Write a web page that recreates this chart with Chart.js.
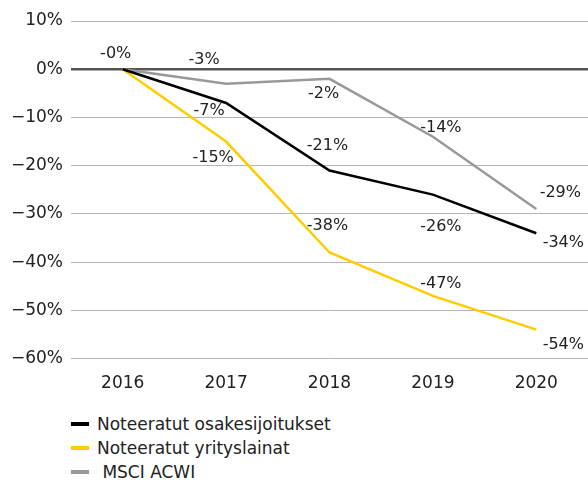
<!DOCTYPE html>
<html lang="fi">
<head>
<meta charset="utf-8">
<script src="https://cdn.jsdelivr.net/npm/chart.js@4"></script>
<style>
  body { margin: 0; background: #fff; font-family: "DejaVu Sans", sans-serif; }
  #wrap { position: relative; width: 588px; height: 401px; }
  #legend { margin: 11px 0 0 71px; }
  .item { display: flex; align-items: center; height: 24px; font-size: 17px; color: #222; }
  .item span.mark { display: inline-block; width: 18px; height: 4px; margin-right: 8px; }
</style>
</head>
<body>
<div id="wrap"><canvas id="grafico"></canvas></div>
<div id="legend"></div>
<script>
// Datos
const vuodet = ['2016', '2017', '2018', '2019', '2020'];
const osakkeet = [0, -7, -21, -26, -34];
const lainat = [0, -15, -38, -47, -54];
const msci = [0, -3, -2, -14, -29];

const nimet = ['Noteeratut osakesijoitukset', 'Noteeratut yrityslainat', ' MSCI ACWI'];
const varit = ['#000000', '#ffcc00', '#999999'];
const fontti = '"DejaVu Sans", sans-serif';

// Etiketit: siirtymä pisteestä (px), null = ei etikettiä
const siirrot = [
  [null, [-17, 8], [-2, -25], [8, 32], [27, 10]],
  [null, [-13, 16], [-2, -27], [8, -12], [27, 15]],
  [[-7, -15], [-22, -24], [-6, 15], [8, -9], [24, -16]]
];

const etiketit = {
  id: 'etiketit',
  afterDatasetsDraw(chart) {
    const c = chart.ctx;
    c.save();
    c.font = '16px ' + fontti;
    c.fillStyle = '#222';
    c.textAlign = 'center';
    c.textBaseline = 'middle';
    chart.data.datasets.forEach((ds, i) => {
      chart.getDatasetMeta(i).data.forEach((p, j) => {
        const s = siirrot[i][j];
        if (!s) return;
        c.fillText(Math.round(ds.data[j]) === 0 ? '-0%' : ds.data[j] + '%', p.x + s[0], p.y + s[1]);
      });
    });
    c.restore();
  }
};

const ctx = document.getElementById('grafico').getContext('2d');
const grafico = new Chart(ctx, {
  type: 'line',
  data: {
    labels: vuodet,
    datasets: [osakkeet, lainat, msci].map((d, i) => ({
      label: nimet[i],
      data: d,
      borderColor: varit[i],
      backgroundColor: varit[i],
      borderWidth: 2.5,
      pointRadius: 0,
      tension: 0,
      order: i
    }))
  },
  options: {
    responsive: true,
    maintainAspectRatio: false,
    animation: false,
    layout: { padding: { top: 21, right: 0, bottom: 0, left: 0 } },
    plugins: {
      legend: { display: false },
      tooltip: { enabled: false }
    },
    scales: {
      x: {
        offset: true,
        grid: { display: false },
        border: { display: false },
        ticks: {
          color: '#222',
          padding: 7,
          font: { size: 17, family: fontti }
        }
      },
      y: {
        min: -60,
        max: 10,
        afterFit: s => { s.width = 71; },
        border: { display: false },
        grid: {
          drawTicks: false,
          color: ctx => ctx.tick.value === 0 ? '#555555' : '#b4b4b4',
          lineWidth: ctx => ctx.tick.value === 0 ? 2.5 : 1
        },
        ticks: {
          stepSize: 10,
          padding: 8,
          color: '#222',
          font: { size: 17, family: fontti },
          callback: v => (v < 0 ? '\u2212' + Math.abs(v) : v) + '%'
        }
      }
    }
  },
  plugins: [etiketit]
});

// Selite
const selite = document.getElementById('legend');
grafico.data.datasets.forEach(ds => {
  const rivi = document.createElement('div');
  rivi.className = 'item';
  rivi.innerHTML = `<span class="mark" style="background:${ds.borderColor}"></span><span style="white-space:pre">${ds.label}</span>`;
  selite.appendChild(rivi);
});
</script>
</body>
</html>
